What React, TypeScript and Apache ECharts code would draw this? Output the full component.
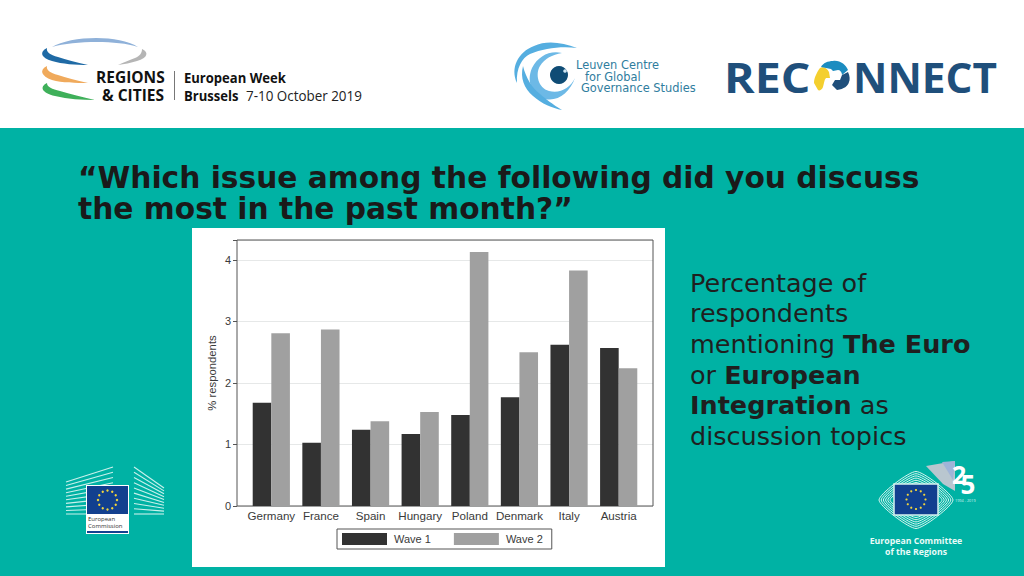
import React, { useEffect, useRef } from "react";
import * as echarts from "echarts";

const categories = ["Germany", "France", "Spain", "Hungary", "Poland", "Denmark", "Italy", "Austria"];
const wave1 = [1.68, 1.03, 1.24, 1.17, 1.48, 1.77, 2.62, 2.57];
const wave2 = [2.81, 2.87, 1.38, 1.53, 4.13, 2.5, 3.83, 2.24];
const seriesNames = ["Wave 1", "Wave 2"];
const yTicks = [0, 1, 2, 3, 4];

const TEAL = "#00b2a4";
const SANS = "'DejaVu Sans', Verdana, sans-serif";
const PLOT_FONT = "'Liberation Sans', Arial, sans-serif";
const LOGO_FONT = "'Open Sans', sans-serif";

const shapes: Record<string, string> = {
  rcTop: "M52 47 C70 36 118 34 138 47 C116 40 74 41 52 47 Z",
  rcBlue: "M47 48 C39 52 41 58 52 61 C62 64 76 65 88 65 C76 62 66 60 58 57 C50 55 46 52 47 48 Z",
  rcGrey: "M142 49 C149 52 148 58 137 61 C131 63 124 64 118 65 C124 62 130 60 135 58 C140 56 142 53 142 49 Z",
  rcOrange: "M47 66 C39 70 41 76 52 80 C62 83 76 83 88 83 C76 80 66 78 58 75 C50 73 46 70 47 66 Z",
  rcGreen: "M47 83 C39 87 42 93 55 96 C68 99 82 100 95 100 C82 97 70 94 60 91 C52 89 47 87 47 83 Z",
  lvA: "M577 48 C562 42 546 40 534 46 C518 52 510 68 517 83 C516 68 522 58 530 54 C544 48 562 46 577 48 Z",
  lvB: "M562 53 C550 50 538 56 532 68 C526 82 532 94 545 99 C558 102 570 92 575 78 C570 88 560 94 549 91 C538 88 535 74 540 66 C545 58 552 55 562 53 Z",
  lvC: "M523 66 C520 78 524 88 533 96 C542 104 552 108 562 110 C552 104 546 99 540 94 C532 88 526 78 523 66 Z",
  oYellow: "M820 68 C823 66 827 68 829 72 L830 78 L826 78 C824 80 824 84 823 87 C822 90 819 91 818 90 L814 83 C814 78 817 72 820 68 Z",
  oBlue: "M821 67 C823 63 828 61 833 61 C840 60 846 65 848 70 L842 75 C842 72 840 70 838 70 L833 71 L831 69 Z",
  oDark: "M842 75 L848 72 C850 76 850 80 849 82 C848 86 844 89 837 90 L832 85 L835 80 L840 80 Z",
  corWing: "M926 466 L955 461 L955 491 L943 484 Z",
  corWing2: "M942 462 L955 461 L953 480 Z",
};
Object.keys(shapes).forEach((k) => {
  echarts.graphic.registerShape(k, echarts.graphic.extendPath(shapes[k] as any, {}) as any);
});

function shape(type: string, fill: string) {
  return { type, x: 0, y: 0, style: { fill } };
}
function label(text: string, x: number, y: number, size: number, fill: string, font: string, weight = "normal", extra: any = {}) {
  return {
    type: "text",
    x,
    y,
    ...extra,
    style: { text, fill, font: `${weight} ${size}px ${font}`, textVerticalAlign: "middle", ...(extra.style || {}) },
  };
}
function flagStars(cx: number, cy: number, r: number, dot: number) {
  const out: any[] = [];
  for (let i = 0; i < 12; i++) {
    const a = (i * Math.PI) / 6;
    out.push({ type: "circle", shape: { cx: cx + r * Math.cos(a), cy: cy + r * Math.sin(a), r: dot }, style: { fill: "#f2d53c" } });
  }
  return out;
}
function stripes() {
  const out: any[] = [];
  // European Commission building wings
  for (let i = 0; i <= 9; i++) {
    const t = i / 9;
    out.push({ type: "line", shape: { x1: 66, y1: 482 + t * 32, x2: 113, y2: 467 + t * 47 }, style: { stroke: "#c9f1ec", lineWidth: 1.1 } });
    out.push({ type: "line", shape: { x1: 134, y1: 467 + t * 47, x2: 164, y2: 488 + t * 26 }, style: { stroke: "#c9f1ec", lineWidth: 1.1 } });
  }
  // Committee of the Regions diamond
  for (let i = 0; i < 6; i++) {
    const w = 37 - i * 2.2;
    const h = 28.5 - i * 2.2;
    const cx = 916;
    const cy = 500;
    out.push({
      type: "polygon",
      shape: { points: [[cx - w, cy], [cx, cy - h], [cx + w, cy], [cx, cy + h]], smooth: 0.2 },
      style: { fill: "none", stroke: "#d6f4f0", lineWidth: 1 },
    });
  }
  return out;
}

export default function App() {
  const ref = useRef<HTMLDivElement>(null);
  useEffect(() => {
    document.body.style.margin = "0";
    const chart = echarts.init(ref.current!, undefined, { renderer: "svg" });
    const richBold = { b: { font: `bold 25.5px ${SANS}`, fill: "#1f1f1f" } };
    const option: any = {
      animation: false,
      backgroundColor: TEAL,
      textStyle: { fontFamily: PLOT_FONT },
      grid: [
        { left: 237, top: 240, width: 416, height: 266, show: false },
        { left: 246.5, top: 240, width: 397, height: 266, show: false },
      ],
      xAxis: [
        { gridIndex: 0, type: "value", min: 0, max: 1, show: false },
        {
          gridIndex: 1,
          type: "category",
          data: categories,
          axisLine: { show: false },
          axisTick: { show: false },
          axisLabel: { color: "#3a3a3a", fontSize: 11.6, margin: 3, fontFamily: PLOT_FONT, interval: 0 },
        },
      ],
      yAxis: [
        {
          gridIndex: 0,
          type: "value",
          min: 0,
          max: 4.325,
          interval: 1,
          name: "% respondents",
          nameLocation: "middle",
          nameGap: 20,
          nameTextStyle: { color: "#3a3a3a", fontSize: 11.3, fontFamily: PLOT_FONT },
          axisLine: { show: false },
          axisTick: { show: true, length: 4, lineStyle: { color: "#555" } },
          axisLabel: {
            color: "#3a3a3a",
            fontSize: 11,
            margin: 6,
            fontFamily: PLOT_FONT,
            customValues: yTicks,
          },
          splitLine: { show: true, lineStyle: { color: "#e6e8e8", width: 1 } },
        },
        { gridIndex: 1, type: "value", min: 0, max: 4.325, show: false },
      ],
      legend: {
        data: seriesNames,
        left: 337,
        top: 529,
        padding: [4, 9, 4, 5],
        itemGap: 23,
        itemWidth: 45,
        itemHeight: 12,
        icon: "rect",
        borderColor: "#555",
        borderWidth: 1,
        borderRadius: 0,
        textStyle: { color: "#3a3a3a", fontSize: 11, fontFamily: PLOT_FONT, padding: [0, 10, 0, 2] },
      },
      series: [
        { name: seriesNames[0], type: "bar", xAxisIndex: 1, yAxisIndex: 1, data: wave1, barWidth: 18.6, barGap: "0%", itemStyle: { color: "#323232" }, z: 3 },
        { name: seriesNames[1], type: "bar", xAxisIndex: 1, yAxisIndex: 1, data: wave2, barWidth: 18.6, barGap: "0%", itemStyle: { color: "#a0a0a0" }, z: 3 },
      ],
      graphic: [
        {
          type: "group",
          silent: true,
          z: -10,
          children: [
            { type: "rect", shape: { x: 0, y: 0, width: 1024, height: 128 }, style: { fill: "#ffffff" } },
            { type: "rect", shape: { x: 192, y: 228, width: 473, height: 339 }, style: { fill: "#ffffff" } },
          ],
        },
        { type: "rect", silent: true, z: 1, shape: { x: 237, y: 240, width: 416, height: 266 }, style: { fill: "none", stroke: "#555", lineWidth: 1 } },
        label("“Which issue among the following did you discuss", 78, 177, 29.7, "#1a1a1a", SANS, "bold"),
        label("the most in the past month?”", 78, 208, 29.7, "#1a1a1a", SANS, "bold"),
        label("Percentage of", 690, 283, 25.5, "#1f1f1f", SANS),
        label("respondents", 690, 313, 25.5, "#1f1f1f", SANS),
        { type: "text", x: 690, y: 344, style: { text: "mentioning {b|The Euro}", fill: "#1f1f1f", font: `25.5px ${SANS}`, textVerticalAlign: "middle", rich: richBold } },
        { type: "text", x: 690, y: 375, style: { text: "or {b|European}", fill: "#1f1f1f", font: `25.5px ${SANS}`, textVerticalAlign: "middle", rich: richBold } },
        { type: "text", x: 690, y: 405, style: { text: "{b|Integration} as", fill: "#1f1f1f", font: `25.5px ${SANS}`, textVerticalAlign: "middle", rich: richBold } },
        label("discussion topics", 690, 436, 25.5, "#1f1f1f", SANS),

        // Regions & Cities logo
        shape("rcTop", "#8fb1d9"),
        shape("rcBlue", "#1f6aa5"),
        shape("rcGrey", "#b5b5b5"),
        shape("rcOrange", "#f0aa5c"),
        shape("rcGreen", "#3fb05a"),
        label("REGIONS", 96, 77, 16.5, "#111", LOGO_FONT, "bold", { scaleX: 0.94 }),
        label("& CITIES", 102, 95, 16.5, "#111", LOGO_FONT, "bold", { scaleX: 0.94 }),
        { type: "line", shape: { x1: 174.5, y1: 71, x2: 174.5, y2: 100 }, style: { stroke: "#777", lineWidth: 1 } },
        label("European Week", 184, 77, 14.5, "#111", LOGO_FONT, "bold", { scaleX: 0.9 }),
        label("Brussels", 184, 95, 14.5, "#111", LOGO_FONT, "bold", { scaleX: 0.9 }),
        label("7-10 October 2019", 246, 95, 15, "#222", LOGO_FONT, "normal", { scaleX: 0.895 }),

        // Leuven logo
        shape("lvA", "#55aee0"),
        shape("lvB", "#6db9e6"),
        shape("lvC", "#55aee0"),
        { type: "circle", shape: { cx: 559, cy: 75, r: 9 }, style: { fill: "#0f4c75" } },
        { type: "circle", shape: { cx: 565, cy: 71, r: 1.8 }, style: { fill: "#cfe6f3" } },
        label("Leuven Centre", 576, 65, 11.4, "#2f7d9e", SANS),
        label("for Global", 585, 76.7, 11.4, "#2f7d9e", SANS),
        label("Governance Studies", 581, 88.3, 11.4, "#2f7d9e", SANS),

        // RECONNECT logo
        label("REC", 724, 77, 40.5, "#1f4f7b", LOGO_FONT, "bold", { scaleX: 1.147 }),
        label("NNECT", 853, 77, 40.5, "#1f4f7b", LOGO_FONT, "bold", { scaleX: 1.045 }),
        shape("oYellow", "#f4cf2e"),
        shape("oBlue", "#1b8cc0"),
        shape("oDark", "#1f4f7b"),

        // EU logos
        ...stripes(),
        { type: "rect", shape: { x: 86, y: 485, width: 43, height: 49 }, style: { fill: "#ffffff" } },
        { type: "rect", shape: { x: 87, y: 486, width: 41, height: 28 }, style: { fill: "#12408f" } },
        { type: "rect", shape: { x: 87, y: 531, width: 41, height: 2 }, style: { fill: "#12408f" } },
        ...flagStars(107.5, 500, 9.5, 1.2),
        label("European", 88, 519, 6, "#333", LOGO_FONT),
        label("Commission", 88, 526, 6, "#333", LOGO_FONT),

        { type: "rect", shape: { x: 894, y: 484, width: 44, height: 31 }, style: { fill: "#12408f", stroke: "#d6f4f0", lineWidth: 1.5 } },
        ...flagStars(916, 499.5, 9.5, 1.1),
        shape("corWing", "#b9c6cf"),
        shape("corWing2", "#9fb4d8"),
        label("2", 952, 474, 25, "#ffffff", LOGO_FONT, "bold"),
        label("5", 960.5, 484, 26, "#ffffff", LOGO_FONT, "bold"),
        label("1994 - 2019", 955, 500, 3.8, "#d9f4f0", LOGO_FONT),
        {
          type: "text",
          x: 916,
          y: 540,
          scaleX: 0.92,
          style: { text: "European Committee", fill: "#e9fbf8", font: `bold 9.5px ${LOGO_FONT}`, textAlign: "center", textVerticalAlign: "middle" },
        },
        {
          type: "text",
          x: 916,
          y: 551,
          scaleX: 0.92,
          style: { text: "of the Regions", fill: "#e9fbf8", font: `bold 9.5px ${LOGO_FONT}`, textAlign: "center", textVerticalAlign: "middle" },
        },
      ],
    };
    chart.setOption(option);
    return () => chart.dispose();
  }, []);
  return <div ref={ref} style={{ position: "absolute", left: 0, top: 0, width: 1024, height: 576 }} />;
}
